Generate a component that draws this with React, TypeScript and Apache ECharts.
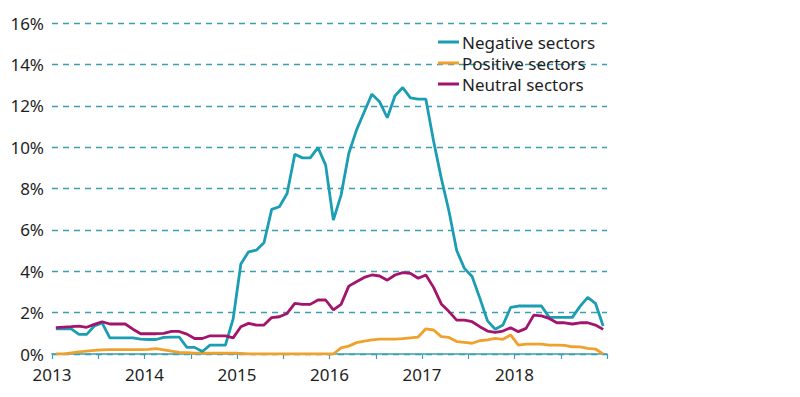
import React, { useEffect, useRef } from "react";
import * as echarts from "echarts";

const START_YEAR = 2013;
const END_YEAR = 2019;

const negativeSectors = [
  1.21, 1.21, 1.21, 0.95, 0.95, 1.35, 1.5, 0.78, 0.78, 0.78, 0.78, 0.72,
  0.7, 0.7, 0.8, 0.82, 0.82, 0.32, 0.32, 0.12, 0.43, 0.43, 0.43, 1.7,
  4.35, 4.94, 5.02, 5.38, 6.99, 7.12, 7.76, 9.66, 9.48, 9.48, 9.98, 9.13,
  6.47, 7.68, 9.69, 10.82, 11.7, 12.56, 12.19, 11.42, 12.48, 12.88, 12.38, 12.32,
  12.32, 10.3, 8.5, 6.9, 5.0, 4.14, 3.75, 2.7, 1.6, 1.2, 1.4, 2.25,
  2.32, 2.32, 2.32, 2.32, 1.77, 1.77, 1.77, 1.77, 2.3, 2.74, 2.45, 1.35,
];

const positiveSectors = [
  0.0, 0.0, 0.05, 0.1, 0.14, 0.18, 0.2, 0.21, 0.21, 0.21, 0.21, 0.21,
  0.22, 0.26, 0.2, 0.14, 0.08, 0.06, 0.04, 0.04, 0.04, 0.04, 0.04, 0.04,
  0.03, 0.0, 0.0, 0.0, 0.0, 0.0, 0.0, 0.0, 0.0, 0.0, 0.0, 0.0,
  0.0, 0.3, 0.38, 0.55, 0.62, 0.68, 0.72, 0.72, 0.72, 0.74, 0.78, 0.82,
  1.22, 1.16, 0.84, 0.8, 0.6, 0.56, 0.52, 0.64, 0.68, 0.76, 0.71, 0.92,
  0.43, 0.48, 0.48, 0.48, 0.43, 0.43, 0.42, 0.35, 0.34, 0.27, 0.24, 0.0,
];

const neutralSectors = [
  1.27, 1.3, 1.32, 1.35, 1.29, 1.43, 1.56, 1.45, 1.45, 1.45, 1.2, 0.98,
  0.98, 0.98, 1.0, 1.09, 1.09, 0.96, 0.75, 0.75, 0.88, 0.88, 0.88, 0.78,
  1.32, 1.48, 1.4, 1.4, 1.76, 1.8, 1.96, 2.45, 2.4, 2.4, 2.61, 2.61,
  2.13, 2.4, 3.28, 3.49, 3.7, 3.82, 3.77, 3.57, 3.82, 3.93, 3.9, 3.66,
  3.82, 3.22, 2.42, 2.05, 1.64, 1.64, 1.56, 1.32, 1.11, 1.05, 1.11, 1.27,
  1.08, 1.24, 1.88, 1.84, 1.72, 1.51, 1.51, 1.45, 1.51, 1.51, 1.4, 1.19,
];

const seriesNames = ["Negative sectors", "Positive sectors", "Neutral sectors"];
const seriesColors = ["#1b9db3", "#f0a12c", "#a3146c"];

const toPoints = (vals: number[]) =>
  vals.map((v, i) => [START_YEAR + (i + 0.5) / 12, v]);

const FONT = "'Noto Sans', 'Open Sans', sans-serif";
const TEXT = "#1e1e1e";
const TEAL = "#3a9fb2";

export default function App() {
  const ref = useRef<HTMLDivElement>(null);
  useEffect(() => {
    if (!ref.current) return;
    const chart = echarts.init(ref.current, undefined, { renderer: "svg" });
    const data = [negativeSectors, positiveSectors, neutralSectors];
    chart.setOption({
      animation: false,
      backgroundColor: "#ffffff",
      grid: { left: 52, right: 193, top: 23, bottom: 43, containLabel: false },
      legend: {
        data: seriesNames,
        orient: "vertical",
        left: 438,
        top: 33,
        padding: 0,
        itemGap: 3,
        itemWidth: 21,
        itemHeight: 3,
        icon: "rect",
        textStyle: { fontFamily: FONT, fontSize: 17, color: TEXT, lineHeight: 18, padding: [0, 0, 0, -2] },
      },
      xAxis: {
        type: "value",
        min: START_YEAR,
        max: END_YEAR,
        interval: 0.5,
        axisLine: { show: true, lineStyle: { color: TEAL, width: 1.5 } },
        axisTick: { show: true, length: 5, lineStyle: { color: TEAL, width: 1.2 } },
        splitLine: { show: false },
        axisLabel: {
          fontFamily: FONT,
          fontSize: 17,
          lineHeight: 16,
          color: TEXT,
          margin: 12,
          formatter: (v: number) =>
            Math.abs(v - Math.round(v)) < 1e-6 && Math.round(v) < END_YEAR ? String(Math.round(v)) : "",
        },
      },
      yAxis: {
        type: "value",
        min: 0,
        max: 16,
        interval: 2,
        axisLine: { show: false },
        axisTick: { show: false },
        axisLabel: {
          fontFamily: FONT,
          fontSize: 17,
          lineHeight: 16,
          color: TEXT,
          margin: 8,
          formatter: "{value}%",
        },
        splitLine: {
          show: true,
          lineStyle: { color: TEAL, width: 1.3, type: [6, 5] },
        },
      },
      series: seriesNames.map((name, k) => ({
        name,
        type: "line",
        data: toPoints(data[k]),
        showSymbol: false,
        symbol: "none",
        color: seriesColors[k],
        lineStyle: { color: seriesColors[k], width: 2.8 },
        z: k === 0 ? 3 : k === 2 ? 4 : 2,
      })),
    });
    return () => chart.dispose();
  }, []);
  return (
    <div
      ref={ref}
      style={{ position: "fixed", left: 0, top: 0, width: 800, height: 397, background: "#fff" }}
    />
  );
}
